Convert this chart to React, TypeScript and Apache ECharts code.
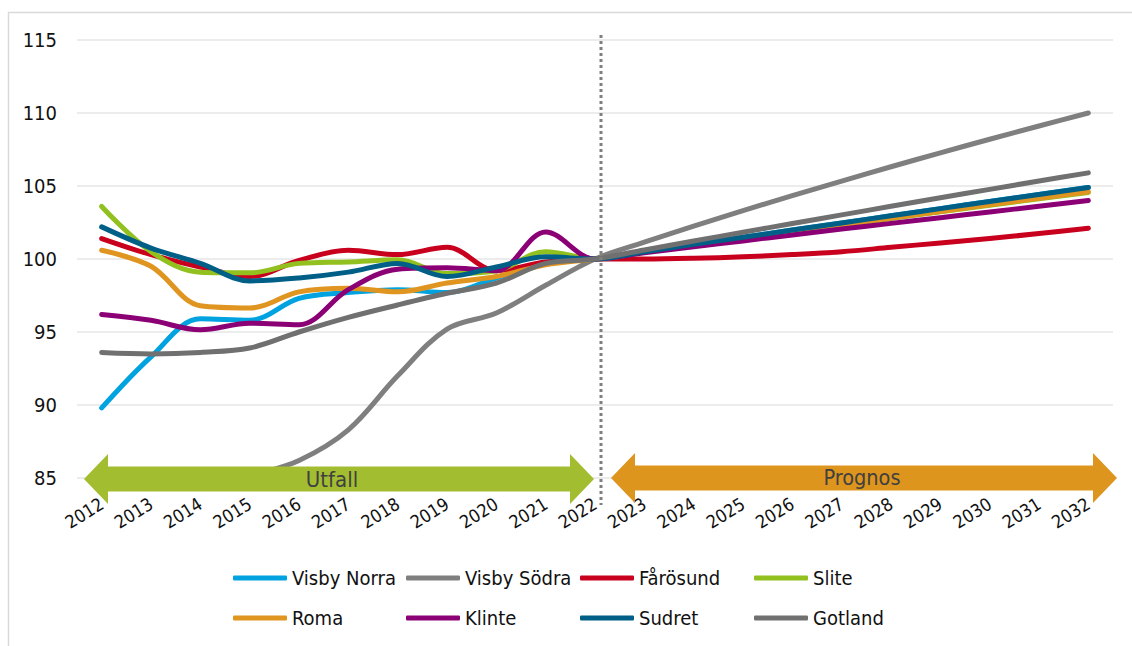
import React, { useEffect, useRef } from "react";
import * as echarts from "echarts";

const years = ["2012","2013","2014","2015","2016","2017","2018","2019","2020","2021","2022","2023","2024","2025","2026","2027","2028","2029","2030","2031","2032"];

const visbyNorra = [89.8, 93.3, 95.9, 95.8, 97.3, 97.7, 97.9, 97.7, 98.7, 99.7, 100, 100.5, 101.0, 101.49, 101.98, 102.47, 102.96, 103.45, 103.94, 104.42, 104.9];
const visbySodra = [81.5, 82.6, 83.8, 85.1, 86.2, 88.3, 92.0, 95.2, 96.3, 98.2, 100, 101.15, 102.25, 103.31, 104.34, 105.34, 106.32, 107.27, 108.2, 109.11, 110.0];
const farosund = [101.4, 100.3, 99.45, 98.8, 99.9, 100.6, 100.3, 100.8, 99.2, 99.8, 100, 100.0, 100.05, 100.15, 100.3, 100.5, 100.8, 101.1, 101.4, 101.75, 102.1];
const slite = [103.6, 100.5, 99.1, 99.05, 99.7, 99.8, 99.95, 99.0, 99.2, 100.5, 100, 100.47, 100.94, 101.4, 101.86, 102.32, 102.78, 103.23, 103.68, 104.12, 104.55];
const roma = [100.6, 99.5, 96.8, 96.65, 97.75, 98.0, 97.75, 98.35, 98.8, 99.6, 100, 100.47, 100.94, 101.41, 101.88, 102.34, 102.8, 103.26, 103.71, 104.16, 104.6];
const klinte = [96.2, 95.8, 95.15, 95.6, 95.5, 97.9, 99.3, 99.4, 99.2, 101.85, 100, 100.42, 100.83, 101.24, 101.65, 102.05, 102.44, 102.83, 103.22, 103.61, 104.0];
const sudret = [102.2, 100.75, 99.7, 98.5, 98.7, 99.1, 99.7, 98.8, 99.45, 100.15, 100, 100.5, 101.0, 101.49, 101.98, 102.47, 102.96, 103.45, 103.94, 104.42, 104.9];
const gotland = [93.6, 93.5, 93.6, 93.9, 95.0, 96.0, 96.85, 97.65, 98.35, 99.7, 100, 100.62, 101.23, 101.83, 102.43, 103.02, 103.61, 104.19, 104.77, 105.34, 105.9];

const seriesNames = ["Visby Norra", "Visby Södra", "Fårösund", "Slite", "Roma", "Klinte", "Sudret", "Gotland"];
const seriesData = [visbyNorra, visbySodra, farosund, slite, roma, klinte, sudret, gotland];
const seriesColors = ["#00a3e0", "#7f7f7f", "#c8001e", "#92c01f", "#df951f", "#8c0076", "#005f87", "#707070"];

const yTicks = { min: 85, max: 115, interval: 5 };
const phaseLabels = ["Utfall", "Prognos"];

const FONT = "'DejaVu Sans Condensed', 'DejaVu Sans', sans-serif";

export default function App() {
  const ref = useRef<HTMLDivElement>(null);
  useEffect(() => {
    if (!ref.current) return;
    const chart = echarts.init(ref.current, null, { renderer: "svg" });
    const legendPos = [
      [233, 568], [406, 568], [580, 568], [754, 568],
      [233, 608], [406, 608], [580, 608], [754, 608],
    ];
    const legends = seriesNames.map((n, i) => ({
      show: true,
      data: [n],
      left: legendPos[i][0],
      top: legendPos[i][1],
      icon: "roundRect",
      itemWidth: 54,
      itemHeight: 5,
      itemGap: 0,
      padding: 0,
      textStyle: { fontFamily: FONT, fontSize: 20, color: "#111" },
      selectedMode: false,
    }));
    const arrow = (x1: number, x2: number, cy: number, color: string) => ({
      type: "polygon",
      z: 50,
      shape: {
        points: [
          [x1, cy], [x1 + 24, cy - 25], [x1 + 24, cy - 12.5], [x2 - 24, cy - 12.5], [x2 - 24, cy - 25],
          [x2, cy], [x2 - 24, cy + 25], [x2 - 24, cy + 12.5], [x1 + 24, cy + 12.5], [x1 + 24, cy + 25],
        ],
      },
      style: { fill: color, stroke: "none" },
    });
    chart.setOption({
      animation: false,
      grid: { left: 77, right: 19, top: 40, bottom: 168, containLabel: false },
      xAxis: {
        type: "category",
        data: years,
        boundaryGap: true,
        axisLine: { show: false },
        axisTick: { show: false },
        axisLabel: { rotate: 32, fontFamily: FONT, fontSize: 18, color: "#111", margin: 24, interval: 0 },
      },
      yAxis: {
        type: "value",
        min: yTicks.min,
        max: yTicks.max,
        interval: yTicks.interval,
        axisLine: { show: false },
        axisTick: { show: false },
        axisLabel: { fontFamily: FONT, fontSize: 20, color: "#111", margin: 20 },
        splitLine: { lineStyle: { color: "#e6e6e6", width: 1.5 } },
      },
      legend: legends,
      series: seriesNames.map((n, i) => ({
        name: n,
        type: "line",
        data: seriesData[i],
        smooth: 0.35,
        symbol: "none",
        color: seriesColors[i],
        lineStyle: { width: 5, color: seriesColors[i], cap: "round", join: "round" },
        z: 2 + i,
      })),
      graphic: [
        { type: "rect", z: 0, shape: { x: 8.5, y: 12.5, width: 1130, height: 640 }, style: { fill: "none", stroke: "#d9d9d9", lineWidth: 1.5 } },
        { type: "line", z: 40, shape: { x1: 601, y1: 35, x2: 601, y2: 505 }, style: { stroke: "#7f7f7f", lineWidth: 3, lineDash: [3, 3] } },
        arrow(84, 594, 479, "#a3bd31"),
        arrow(611, 1117, 478, "#dd951d"),
        { type: "text", z: 60, x: 332, y: 479, style: { text: phaseLabels[0], fontFamily: FONT, fontSize: 22, fill: "#404040", align: "center", verticalAlign: "middle" } },
        { type: "text", z: 60, x: 862, y: 477, style: { text: phaseLabels[1], fontFamily: FONT, fontSize: 21.5, fill: "#404040", align: "center", verticalAlign: "middle" } },
      ],
    });
    return () => chart.dispose();
  }, []);
  return <div ref={ref} style={{ position: "absolute", left: 0, top: 0, width: 1132, height: 646, background: "#fff" }} />;
}
